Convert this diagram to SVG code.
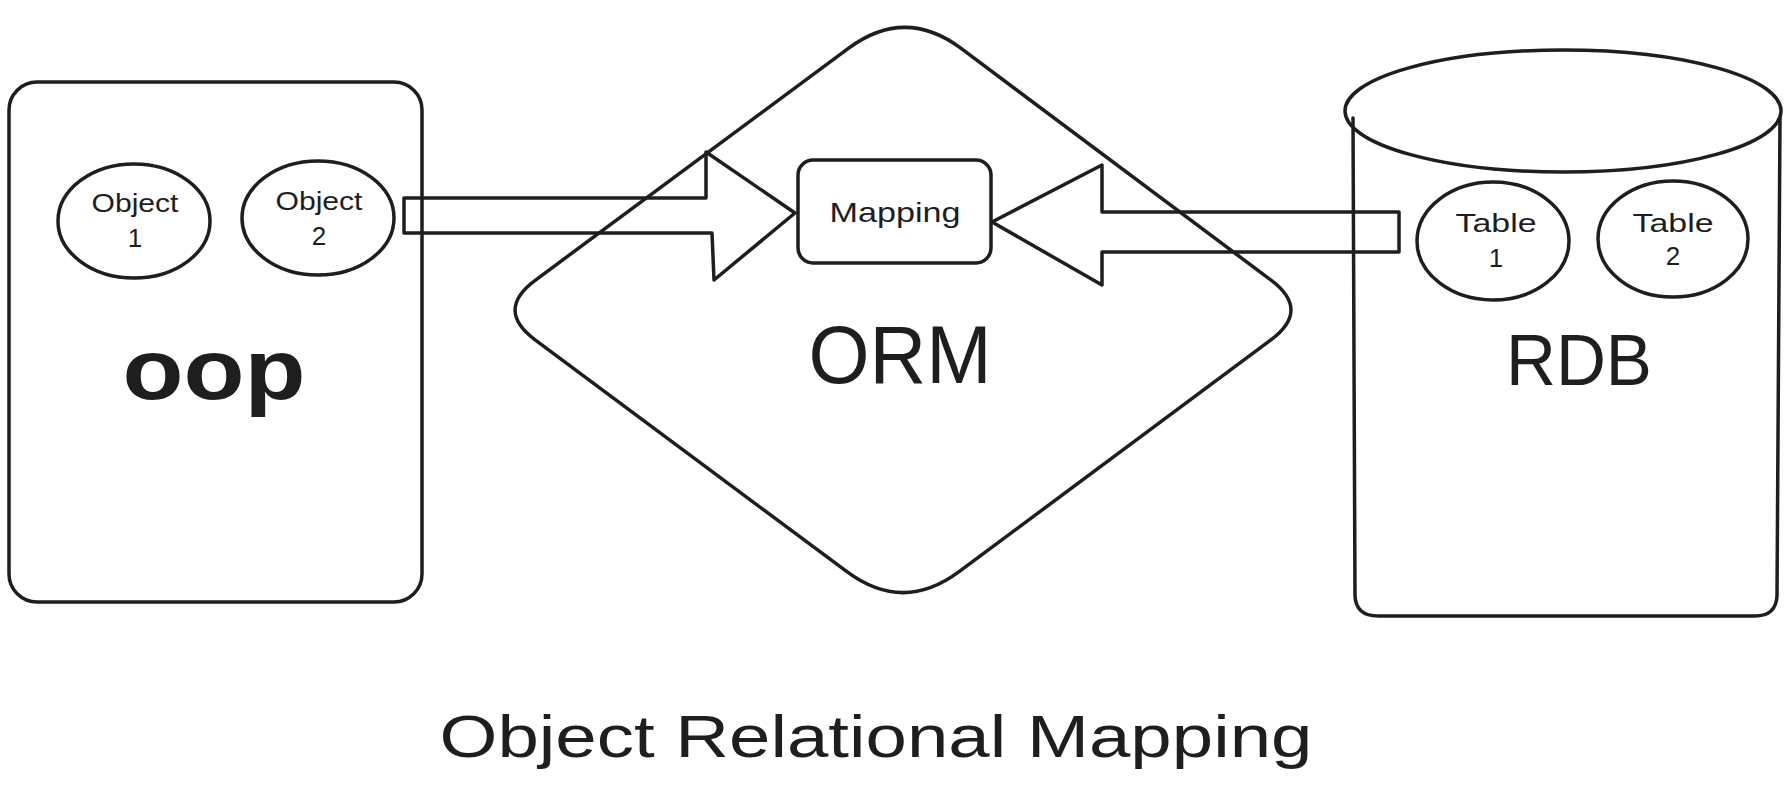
<svg xmlns="http://www.w3.org/2000/svg" width="1789" height="794" viewBox="0 0 1789 794">
<style>
.s{fill:none;stroke:#1e1e1e;stroke-width:3.5;stroke-linejoin:round;stroke-linecap:round}
.t{font-family:"Liberation Sans",Arial,sans-serif;fill:#1e1e1e;text-anchor:middle}
.sm{font-size:26px}
</style>
<rect width="1789" height="794" fill="#ffffff"/>
<g id="node-oop">
<rect class="s" x="9" y="82" width="413" height="520" rx="28"/>
<text class="t" x="214" y="399" font-size="85" font-weight="bold" textLength="183" lengthAdjust="spacingAndGlyphs">oop</text>
</g>
<g id="node-object1">
<ellipse class="s" cx="134" cy="221" rx="76" ry="57"/>
<text class="t sm" x="135" y="212" textLength="87" lengthAdjust="spacingAndGlyphs">Object</text>
<text class="t sm" x="135" y="247">1</text>
</g>
<g id="node-object2">
<ellipse class="s" cx="318" cy="218" rx="76" ry="57"/>
<text class="t sm" x="319" y="210" textLength="87" lengthAdjust="spacingAndGlyphs">Object</text>
<text class="t sm" x="319" y="245">2</text>
</g>
<g id="node-orm">
<path class="s" d="M 961.1 48.4 L 1271 280.1 Q 1311 310 1270.9 339.9 L 959.1 571.7 Q 903 613.5 846.9 571.7 L 535.1 339.9 Q 495 310 535.2 280.3 L 848.7 48.2 Q 905 6.5 961.1 48.4 Z"/>
<text class="t" x="900" y="383" font-size="81" textLength="183" lengthAdjust="spacingAndGlyphs">ORM</text>
</g>
<g id="node-mapping">
<rect class="s" x="798" y="160" width="193" height="103" rx="15"/>
<text class="t" x="895" y="222" font-size="28" textLength="131" lengthAdjust="spacingAndGlyphs">Mapping</text>
</g>
<g id="node-rdb">
<path class="s" d="M 1353 118 L 1355 596 Q 1356 616 1378 616 L 1755 616 Q 1776 616 1777 596 L 1780 118"/>
<ellipse class="s" cx="1563" cy="111" rx="218" ry="61"/>
<text class="t" x="1579" y="385" font-size="73" textLength="146" lengthAdjust="spacingAndGlyphs">RDB</text>
</g>
<g id="node-table1">
<ellipse class="s" cx="1493" cy="241" rx="76" ry="59"/>
<text class="t sm" x="1496" y="232" textLength="81" lengthAdjust="spacingAndGlyphs">Table</text>
<text class="t sm" x="1496" y="267">1</text>
</g>
<g id="node-table2">
<ellipse class="s" cx="1673" cy="239" rx="75" ry="58"/>
<text class="t sm" x="1673" y="232" textLength="81" lengthAdjust="spacingAndGlyphs">Table</text>
<text class="t sm" x="1673" y="265">2</text>
</g>
<g id="connectors">
<path class="s" d="M 404 198 L 706 198 L 706 152 L 795 213 L 714 280 L 712 233 L 404 233 Z"/>
<path class="s" d="M 1399 212 L 1102 212 L 1102 165 L 992 222 L 1102 285 L 1102 252 L 1399 252 Z"/>
</g>
<g id="title">
<text class="t" x="876" y="757" font-size="60" textLength="873" lengthAdjust="spacingAndGlyphs">Object Relational Mapping</text>
</g>
</svg>
